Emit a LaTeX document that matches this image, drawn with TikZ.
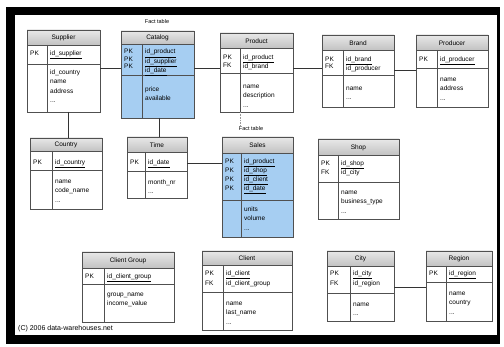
\documentclass[tikz,border=0pt]{standalone}
\usepackage{fontspec}
\setmainfont{Liberation Sans}
\definecolor{hdrtop}{HTML}{E8E8E8}
\definecolor{hdrbot}{HTML}{C2C2C2}
\definecolor{factblue}{HTML}{A6CEF2}
\definecolor{tborder}{HTML}{505050}
\tikzset{
  tblbox/.style={draw=tborder, line width=0.8pt, inner sep=0pt, outer sep=0pt},
  sepline/.style={draw=tborder, line width=0.6pt},
  ttl/.style={inner sep=0pt, font=\fontsize{6.5}{7}\selectfont},
  cell/.style={anchor=north west, inner sep=0pt, align=left},
  fact/.style={inner sep=0.5pt, font=\fontsize{5.5}{6}\selectfont, fill=white},
  conn/.style={draw=black!80, line width=0.6pt},
  capt/.style={inner sep=0pt, anchor=west, font=\fontsize{7}{8}\selectfont}
}
% #1 name, #2 x1, #3 y1, #4 x2, #5 y2, #6 header bottom, #7 key bottom, #8 column x, #9 body fill
\newcommand\erdtbl[9]{%
  \def\erdx{#2}\def\erdy{#3}\def\erdX{#4}\def\erdY{#5}\def\erdh{#6}\def\erdk{#7}\def\erdc{#8}%
  \fill[#9] (#2,#6) rectangle (#4,#5);
  \shade[top color=hdrtop,bottom color=hdrbot] (#2,#3) rectangle (#4,#6);
  \draw[sepline] (#2,#6) -- (#4,#6);
  \draw[sepline] (#2,#7) -- (#4,#7);
  \draw[sepline] (#8,#6) -- (#8,#5);
  \node[tblbox, minimum width={(#4-#2)*1pt}, minimum height={(#5-#3)*1pt}] (#1) at ({(#2+#4)/2},{(#3+#5)/2}) {};
}
% #1 key row spacing, #2 name, #3 title, #4 first key row y, #5 labels, #6 key names, #7 first attr row y, #8 attrs
\newcommand\erdtext[8][8]{%
  \node[ttl] (#2-t) at ({(\erdx+\erdX)/2},{(\erdy+\erdh)/2+0.5}) {#3};
  \node[cell, font=\fontsize{6.5}{#1}\selectfont] (#2-k) at (\erdx+3,#4-2.7) {\rule{0pt}{5pt}#5};
  \node[cell, font=\fontsize{6.5}{#1}\selectfont] (#2-n) at (\erdc+3,#4-2.7) {\rule{0pt}{5pt}#6};
  \node[cell, font=\fontsize{6.5}{9.5}\selectfont] (#2-a) at (\erdc+3,#7-2.7) {\rule{0pt}{5pt}#8};
}
\begin{document}
\begin{tikzpicture}[x=1pt,y=-1pt]
\useasboundingbox (0,0) rectangle (504,347);
\fill[white] (0,0) rectangle (504,347);
\fill[black] (6,7) rectangle (500,344);
\fill[white] (15,15) rectangle (497,335);

% tables
\erdtbl{supl}{27}{30}{100}{112}{45}{64}{47}{white}
\erdtext[8]{supl}{Supplier}{53}{PK}{\underline{id\_supplier}}{72}{id\_country\\name\\address\\...}

\erdtbl{cat}{121}{31}{194}{118}{44}{75}{142}{factblue}
\erdtext[7.5]{cat}{Catalog}{51.5}{PK\\PK\\PK}{\underline{id\_product}\\\underline{id\_supplier}\\\underline{id\_date}}{89}{price\\available}

\erdtbl{prod}{220}{33}{293}{112}{48}{73}{240}{white}
\erdtext[8]{prod}{Product}{57}{PK\\FK}{\underline{id\_product}\\id\_brand}{86}{name\\description\\...}

\erdtbl{brand}{322}{35}{394}{107}{50}{75}{343}{white}
\erdtext[7]{brand}{Brand}{59}{PK\\FK}{\underline{id\_brand}\\id\_producer}{88}{name\\...}

\erdtbl{prodr}{416}{35}{488}{107}{50}{68}{437}{white}
\erdtext[7]{prodr}{Producer}{59}{PK}{\underline{id\_producer}}{79}{name\\address\\...}

\erdtbl{ctry}{30}{138}{102}{209}{151}{170}{52}{white}
\erdtext[8]{ctry}{Country}{162}{PK}{\underline{id\_country}}{181}{name\\code\_name\\...}

\erdtbl{time}{127}{137}{187}{198}{152}{171}{145}{white}
\erdtext[8]{time}{Time}{162}{PK}{\underline{id\_date}}{182}{month\_nr\\...}

\erdtbl{sales}{222}{137}{293}{237}{153}{200}{241}{factblue}
\erdtext[9]{sales}{Sales}{161}{PK\\PK\\PK\\PK}{\underline{id\_product}\\\underline{id\_shop}\\\underline{id\_client}\\\underline{id\_date}}{209}{units\\volume\\...}

\erdtbl{shop}{318}{139}{399}{219}{155}{182}{338}{white}
\erdtext[9]{shop}{Shop}{163}{PK\\FK}{\underline{id\_shop}\\id\_city}{192}{name\\business\_type\\...}

\erdtbl{cgrp}{82}{252}{174}{322}{268}{284}{104}{white}
\erdtext[8]{cgrp}{Client Group}{276}{PK}{\underline{id\_client\_group}}{294}{group\_name\\income\_value}

\erdtbl{client}{202}{251}{292}{330}{265}{292}{223}{white}
\erdtext[10]{client}{Client}{273}{PK\\FK}{\underline{id\_client}\\id\_client\_group}{303}{name\\last\_name\\...}

\erdtbl{city}{327}{251}{394}{321}{266}{293}{350}{white}
\erdtext[10]{city}{City}{273}{PK\\FK}{\underline{id\_city}\\id\_region}{304}{name\\...}

\erdtbl{region}{426}{251}{492}{321}{266}{282}{446}{white}
\erdtext[8]{region}{Region}{273}{PK}{\underline{id\_region}}{293}{name\\country\\...}

% labels
\node[fact] (f1) at (157,22) {Fact table};
\node[fact] (f2) at (251,129) {Fact table};
\node[capt] (cap) at (18,329) {(C) 2006 data-warehouses.net};

% connectors
\draw[conn] (supl.east |- 0,68) -- (cat.west |- 0,68);
\draw[conn] (cat.east |- 0,68) -- (prod.west |- 0,68);
\draw[conn] (prod.east |- 0,68) -- (brand.west |- 0,68);
\draw[conn] (brand.east |- 0,70) -- (prodr.west |- 0,70);
\draw[conn] (supl.south -| 68,0) -- (ctry.north -| 68,0);
\draw[conn] (cat.south -| 159,0) -- (time.north -| 159,0);
\draw[conn] (time.east |- 0,163) -- (sales.west |- 0,163);
\draw[conn, black!40, densely dotted] (prod.south -| 240,0) -- (f2.north -| 240,0);
\draw[conn] (city.east |- 0,287) -- (region.west |- 0,287);
\end{tikzpicture}
\end{document}
